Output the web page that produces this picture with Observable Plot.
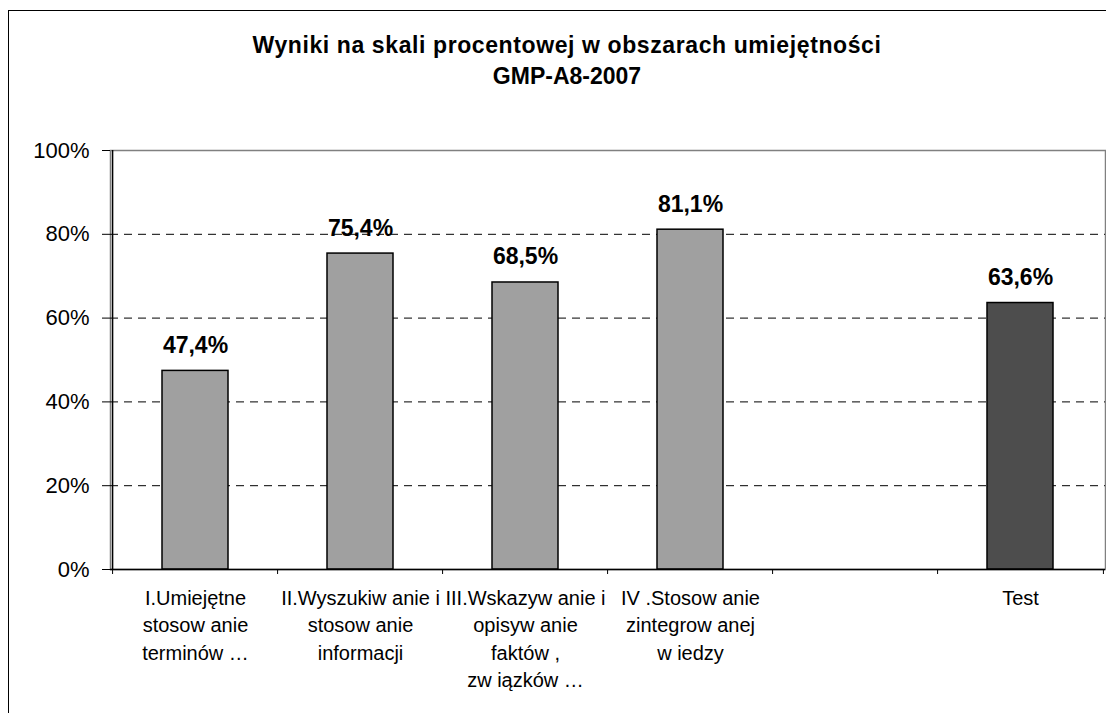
<!DOCTYPE html>
<html><head><meta charset="utf-8">
<script src="https://cdn.jsdelivr.net/npm/d3@7"></script>
<script src="https://cdn.jsdelivr.net/npm/@observablehq/plot@0.6"></script>
<style>
html,body{margin:0;padding:0;overflow:hidden;background:#fff;width:1106px;height:713px;}
#wrap{position:relative;width:1106px;height:713px;font-family:"Liberation Sans",Arial,sans-serif;}
#frame{position:absolute;left:8px;top:10px;width:1200px;height:800px;border:1px solid #000;}
#title{position:absolute;left:0;width:1134px;top:30px;text-align:center;font-weight:bold;font-size:23px;line-height:31px;color:#000;}
#title .l1{letter-spacing:0.6px;}
#chart{position:absolute;left:0;top:130px;}
</style></head><body>
<div id="wrap"><div id="frame"></div><div id="title"><span class="l1">Wyniki na skali procentowej w obszarach umiejętności</span><br>GMP-A8-2007</div><div id="chart"></div></div>
<script>
const categories = [
  "I.Umiejętne\nstosow anie\nterminów …",
  "II.Wyszukiw anie i\nstosow anie\ninformacji",
  "III.Wskazyw anie i\nopisyw anie\nfaktów ,\nzw iązków …",
  "IV .Stosow anie\nzintegrow anej\nw iedzy",
  "",
  "Test"
];
const values = [47.4, 75.4, 68.5, 81.1, null, 63.6];
const barFills = ["#a0a0a0", "#a0a0a0", "#a0a0a0", "#a0a0a0", "#a0a0a0", "#4d4d4d"];
const yTicks = [0, 20, 40, 60, 80, 100];
const gridTicks = [20, 40, 60, 80];

const data = categories.map((c, i) => ({category: c, value: values[i], fill: barFills[i]}));
const bars = data.filter(d => d.value != null);
const fmt = v => v.toFixed(1).replace(".", ",") + "%";

const W = 1106, H = 583, mL = 110, mR = 1;
const halfStep = (W - mL - mR) / categories.length / 2;

const chart = Plot.plot({
  width: W, height: H,
  marginLeft: mL, marginRight: mR, marginTop: 20, marginBottom: 144,
  style: {fontFamily: '"Liberation Sans", Arial, sans-serif', background: "transparent", color: "#000", overflow: "visible"},
  x: {domain: categories, type: "band", paddingInner: 0.6, paddingOuter: 0.3, label: null},
  y: {domain: [0, 100], label: null},
  color: {type: "identity"},
  marks: [
    Plot.frame({stroke: "#808080", strokeWidth: 1.5}),
    Plot.ruleY(gridTicks, {stroke: "#000", strokeDasharray: "8,6"}),
    Plot.barY(bars, {x: "category", y: "value", fill: "fill", stroke: "#000", strokeWidth: 1.5}),
    Plot.text(bars, {x: "category", y: "value", text: d => fmt(d.value), lineAnchor: "bottom", dy: -18, fontSize: 23, fontWeight: "bold"}),
    Plot.ruleY([0], {stroke: "#000", strokeWidth: 1.5}),
    Plot.ruleX([categories[0]], {y1: 0, y2: 100, dx: -halfStep, stroke: "#000", strokeWidth: 1.5}),
    Plot.axisY({ticks: yTicks, tickFormat: d => d + "%", tickSize: 8, tickPadding: 13, fontSize: 22, label: null}),
    Plot.axisX({tickSize: 5, tickFormat: () => "", dx: -halfStep, label: null}),
    Plot.axisX({ticks: [categories[categories.length - 1]], tickSize: 5, tickFormat: () => "", dx: halfStep, label: null}),
    Plot.axisX({tickSize: 0, tickPadding: 16, fontSize: 20, lineHeight: 1.37, label: null})
  ]
});
document.getElementById("chart").appendChild(chart);
</script>
</body></html>
